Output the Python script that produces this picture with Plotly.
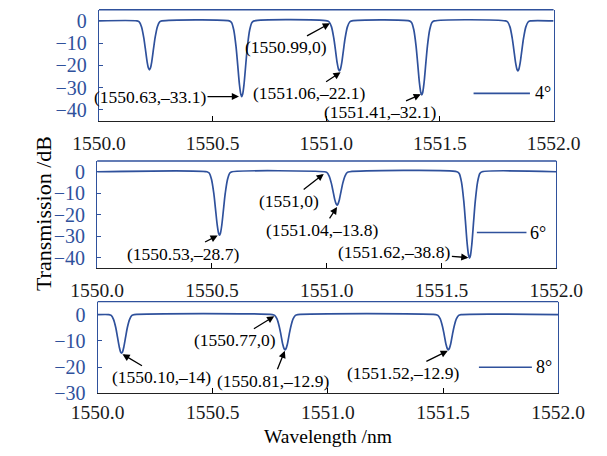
import plotly.graph_objects as go

# ---------------- data ----------------
# Panel 1: 4 deg
wl_4 = [1550.000,
        1550.167, 1550.177, 1550.187, 1550.197, 1550.204, 1550.212, 1550.218, 1550.222, 1550.226, 1550.232, 1550.240, 1550.247, 1550.257, 1550.267, 1550.277,
        1550.573, 1550.583, 1550.593, 1550.603, 1550.610, 1550.618, 1550.624, 1550.628, 1550.632, 1550.638, 1550.646, 1550.653, 1550.663, 1550.673, 1550.683,
        1551.003, 1551.013, 1551.023, 1551.033, 1551.040, 1551.048, 1551.054, 1551.058, 1551.062, 1551.068, 1551.076, 1551.083, 1551.093, 1551.103, 1551.113,
        1551.365, 1551.375, 1551.385, 1551.395, 1551.402, 1551.410, 1551.416, 1551.420, 1551.424, 1551.430, 1551.438, 1551.445, 1551.455, 1551.465, 1551.475,
        1551.788, 1551.798, 1551.808, 1551.818, 1551.825, 1551.833, 1551.839, 1551.843, 1551.847, 1551.853, 1551.861, 1551.868, 1551.878, 1551.888, 1551.898,
        1552.000]
tr_4 = [0,
        0, -0.4, -2.6, -7.5, -12.5, -18.5, -21.3, -22.0, -21.3, -18.5, -12.5, -7.5, -2.6, -0.4, 0,
        0, -0.7, -4.1, -11.6, -19.4, -28.6, -33.0, -34.0, -33.0, -28.6, -19.4, -11.6, -4.1, -0.7, 0,
        0, -0.5, -2.7, -7.7, -12.8, -18.9, -21.8, -22.5, -21.8, -18.9, -12.8, -7.7, -2.7, -0.5, 0,
        0, -0.7, -4.0, -11.3, -19.0, -28.0, -32.3, -33.3, -32.3, -28.0, -19.0, -11.3, -4.0, -0.7, 0,
        0, -0.5, -2.7, -7.7, -12.8, -18.9, -21.8, -22.5, -21.8, -18.9, -12.8, -7.7, -2.7, -0.5, 0,
        0]

# Panel 2: 6 deg
wl_6 = [1550.000,
        1550.478, 1550.488, 1550.498, 1550.508, 1550.515, 1550.523, 1550.529, 1550.533, 1550.537, 1550.543, 1550.551, 1550.558, 1550.568, 1550.578, 1550.588,
        1550.990, 1551.000, 1551.010, 1551.020, 1551.027, 1551.035, 1551.041, 1551.045, 1551.049, 1551.055, 1551.063, 1551.070, 1551.080, 1551.090, 1551.100,
        1551.567, 1551.577, 1551.587, 1551.597, 1551.604, 1551.612, 1551.618, 1551.622, 1551.626, 1551.632, 1551.640, 1551.647, 1551.657, 1551.667, 1551.677,
        1552.000]
tr_6 = [0,
        0, -0.6, -3.5, -10.0, -16.8, -24.8, -28.6, -29.5, -28.6, -24.8, -16.8, -10.0, -3.5, -0.6, 0,
        0, -0.3, -1.9, -5.3, -8.8, -13.0, -15.0, -15.5, -15.0, -13.0, -8.8, -5.3, -1.9, -0.3, 0,
        0, -0.8, -4.8, -13.7, -22.9, -33.8, -39.0, -40.2, -39.0, -33.8, -22.9, -13.7, -4.8, -0.8, 0,
        0]

# Panel 3: 8 deg
wl_8 = [1550.000,
        1550.049, 1550.059, 1550.069, 1550.079, 1550.086, 1550.094, 1550.100, 1550.104, 1550.108, 1550.114, 1550.122, 1550.129, 1550.139, 1550.149, 1550.159,
        1550.759, 1550.769, 1550.779, 1550.789, 1550.796, 1550.804, 1550.810, 1550.814, 1550.818, 1550.824, 1550.832, 1550.839, 1550.849, 1550.859, 1550.869,
        1551.468, 1551.478, 1551.488, 1551.498, 1551.505, 1551.513, 1551.519, 1551.523, 1551.527, 1551.533, 1551.541, 1551.548, 1551.558, 1551.568, 1551.578,
        1552.000]
tr_8 = [0,
        0, -0.3, -1.8, -5.0, -8.4, -12.3, -14.3, -14.7, -14.3, -12.3, -8.4, -5.0, -1.8, -0.3, 0,
        0, -0.3, -1.6, -4.6, -7.6, -11.3, -13.0, -13.4, -13.0, -11.3, -7.6, -4.6, -1.6, -0.3, 0,
        0, -0.3, -1.6, -4.6, -7.6, -11.3, -13.0, -13.4, -13.0, -11.3, -7.6, -4.6, -1.6, -0.3, 0,
        0]

series_names = ["4°", "6°", "8°"]

x_ticks = [1550.0, 1550.5, 1551.0, 1551.5, 1552.0]
y_ticks_a = [0, -10, -20, -30, -40]
y_ticks_c = [0, -10, -20, -30]

# annotated points
ann_labels = ["(1550.63,–33.1)", "(1550.99,0)", "(1551.06,–22.1)", "(1551.41,–32.1)",
              "(1551,0)", "(1551.04,–13.8)", "(1550.53,–28.7)", "(1551.62,–38.8)",
              "(1550.10,–14)", "(1550.77,0)", "(1550.81,–12.9)", "(1551.52,–12.9)"]
ann_x = [1550.616, 1551.016, 1551.063, 1551.416,
         1550.987, 1551.045, 1550.525, 1551.617,
         1550.108, 1550.767, 1550.813, 1551.521]
ann_y = [-34.0, -1.1, -23.1, -33.0,
         -1.0, -16.4, -29.7, -40.0,
         -15.1, -0.6, -13.8, -13.8]
ann_panel = [1, 1, 1, 1, 2, 2, 2, 2, 3, 3, 3, 3]
ann_ax = [-89, -44, -32, -41, -35, -15, -35, -74, 39, -39, -12, -45]
ann_ay = [0, 24, 21, 18, 27, 23, 18, -6, 23, 24, 30, 22]

# ---------------- styling ----------------
BLUE = "#2f519c"
FONT = "Liberation Serif, Times New Roman, serif"

fig = go.Figure()
panels = [(wl_4, tr_4, "x", "y"), (wl_6, tr_6, "x2", "y2"), (wl_8, tr_8, "x3", "y3")]
for (wx, ty, xa, ya), nm in zip(panels, series_names):
    fig.add_trace(go.Scatter(x=wx, y=ty, mode="lines", name=nm, xaxis=xa, yaxis=ya,
                             line=dict(color=BLUE, width=1.7, shape="spline", smoothing=0.8),
                             showlegend=False, hoverinfo="skip"))

W, H = 607, 456
boxes = [(79, 578, 10, 124), (77, 581, 165, 275), (77.5, 583, 309, 403)]
yranges = [[-45, 5], [-45, 5], [-30, 5]]
yticks = [y_ticks_a, y_ticks_a, y_ticks_c]
xstandoff = [4, 4, 1]

layout = dict(width=W, height=H, margin=dict(l=0, r=0, t=0, b=0),
              paper_bgcolor="white", plot_bgcolor="white", showlegend=False)

for i, ((l, r, t, b), yr, yt, so) in enumerate(zip(boxes, yranges, yticks, xstandoff)):
    sfx = "" if i == 0 else str(i + 1)
    layout["xaxis" + sfx] = dict(
        domain=[l / W, r / W], anchor="y" + sfx, range=[1550, 1552],
        tickvals=x_ticks, tickformat=".1f", ticks="inside", ticklen=5,
        tickcolor="black", tickwidth=1, showline=True, linecolor="#222222",
        linewidth=1.3, mirror=False, showgrid=False, zeroline=False,
        tickfont=dict(family=FONT, size=19.5, color="#1a1a1a"), ticklabelstandoff=so)
    layout["yaxis" + sfx] = dict(
        domain=[1 - b / H, 1 - t / H], anchor="x" + sfx, range=yr,
        tickvals=yt, ticks="inside", ticklen=4, tickcolor=BLUE, tickwidth=1,
        showline=True, linecolor=BLUE, linewidth=1.3, mirror=True,
        showgrid=False, zeroline=False,
        tickfont=dict(family=FONT, size=20, color=BLUE), ticklabelstandoff=7)

fig.update_layout(**layout)

shapes = []
annotations = []
for i in range(3):
    sfx = "" if i == 0 else str(i + 1)
    shapes.append(dict(type="line", xref="x" + sfx + " domain", yref="y" + sfx + " domain",
                       x0=0, x1=1, y0=1, y1=1, line=dict(color=BLUE, width=1.3), layer="above"))

leg_pos = [(0.824, 0.948, 0.248, 0.954), (0.827, 0.935, 0.334, 0.938), (0.828, 0.943, 0.284, 0.947)]
for i, ((x0, x1, yy, xt), nm) in enumerate(zip(leg_pos, series_names)):
    sfx = "" if i == 0 else str(i + 1)
    shapes.append(dict(type="line", xref="x" + sfx + " domain", yref="y" + sfx + " domain",
                       x0=x0, x1=x1, y0=yy, y1=yy, line=dict(color=BLUE, width=1.7)))
    annotations.append(dict(xref="x" + sfx + " domain", yref="y" + sfx + " domain",
                            x=xt, y=yy, text=nm, showarrow=False, xanchor="left",
                            yanchor="middle", font=dict(family=FONT, size=18, color="black")))

for lab, xv, yv, p, axv, ayv in zip(ann_labels, ann_x, ann_y, ann_panel, ann_ax, ann_ay):
    sfx = "" if p == 1 else str(p)
    annotations.append(dict(xref="x" + sfx, yref="y" + sfx, x=xv, y=yv, text=lab,
                            showarrow=True, ax=axv, ay=ayv, arrowhead=2, arrowsize=1.1,
                            arrowwidth=1.3, arrowcolor="black", standoff=0,
                            font=dict(family=FONT, size=17.5, color="black")))

annotations.append(dict(xref="paper", yref="paper", x=330.5 / W, y=0, yshift=-3,
                        text="Wavelength /nm", showarrow=False, xanchor="center", yanchor="bottom",
                        borderpad=0, font=dict(family=FONT, size=19.5, color="black")))
annotations.append(dict(xref="paper", yref="paper", x=18 / W, y=1 - 219 / H,
                        text="Transmission /dB", textangle=-90, showarrow=False,
                        xanchor="center", yanchor="middle",
                        font=dict(family=FONT, size=22, color="black")))

fig.update_layout(shapes=shapes, annotations=annotations)
fig.write_html("out.html")
